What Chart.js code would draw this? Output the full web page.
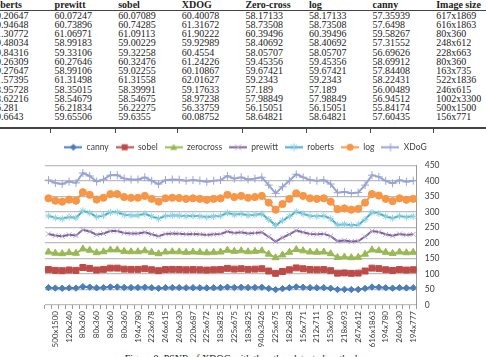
<!DOCTYPE html>
<html>
<head>
<meta charset="utf-8">
<script src="https://cdn.jsdelivr.net/npm/chart.js@4.4.0/dist/chart.umd.min.js"></script>
<style>
    html, body { margin: 0; padding: 0; background: #fff; }
    body { width: 486px; height: 357px; position: relative; overflow: hidden; font-family: "Liberation Serif", serif; color: #222; }
    .cell { position: absolute; font-size: 10px; line-height: 10px; white-space: nowrap; }
    .head { font-weight: bold; }
    .rule { position: absolute; background: #444; }
    #chartWrap { position: absolute; left: 0; top: 130px; width: 486px; height: 227px; }
    #caption { position: absolute; left: 0; width: 486px; top: 353px; text-align: center; font-size: 10px; }
</style>
</head>
<body>
<div id="table"></div>
<div id="caption">Figure 8: PSNR of XDOG with the other detected methods</div>
<div id="chartWrap"><canvas id="psnrChart" width="486" height="227"></canvas></div>
<script>
// ── Table (tail of the previous table on the page) ──────────
const tableHead = ["roberts", "prewitt", "sobel", "XDOG", "Zero-cross", "log", "canny", "Image size"];
const tRoberts = ["60.20647", "60.94648", "61.30772", "59.48034", "59.84316", "60.26309", "59.27647", "61.57395", "58.95728", "58.62216", "56.281", "59.6643"];
const tPrewitt = ["60.07247", "60.73896", "61.06971", "58.99183", "59.33106", "60.27646", "58.99106", "61.31498", "58.35015", "58.54679", "56.21834", "59.65506"];
const tSobel = ["60.07089", "60.74285", "61.09113", "59.00229", "59.32258", "60.32476", "59.02255", "61.31558", "58.39991", "58.54675", "56.22275", "59.6355"];
const tXdog = ["60.40078", "61.31672", "61.90222", "59.92989", "60.4554", "61.24226", "60.10867", "62.01627", "59.17633", "58.97238", "56.33759", "60.08752"];
const tZero = ["58.17133", "58.73508", "60.39496", "58.40692", "58.05707", "59.45356", "59.67421", "59.2343", "57.189", "57.98849", "56.15051", "58.64821"];
const tLog = ["58.17133", "58.73508", "60.39496", "58.40692", "58.05707", "59.45356", "59.67421", "59.2343", "57.189", "57.98849", "56.15051", "58.64821"];
const tCanny = ["57.35939", "57.6498", "59.58267", "57.31552", "56.69626", "58.69912", "57.84408", "58.22431", "56.00489", "56.94512", "55.84174", "57.60435"];
const tSize = ["617x1869", "616x1863", "80x360", "248x612", "228x663", "80x360", "163x735", "522x1836", "246x615", "1002x3300", "500x1500", "156x771"];

// ── Chart data ──────────────────────────────────────────────
// only every second image size is printed under the axis
const shownSizes = ["500x1500", "120x240", "80x360", "80x360", "80x360", "80x360", "194x780", "223x678", "246x615",
    "240x630", "220x687", "225x672", "183x825", "225x675", "183x825", "940x3426", "225x675", "182x828", "156x771",
    "212x711", "153x690", "218x693", "247x612", "616x1863", "194x780", "240x630", "194x777"];

const canny = [55.8, 54.5, 54.0, 55.1, 54.5, 59.1, 57.7, 55.1, 56.1, 58.1, 58.1, 56.5, 56.1, 56.1, 57.1, 55.5, 54.0, 55.8,
    56.1, 56.0, 55.5, 55.8, 55.5, 55.0, 55.5, 55.8, 57.7, 56.5, 57.1, 56.1, 56.5, 57.1, 53.5, 49.7, 52.7, 55.5, 58.5, 57.1,
    55.8, 55.5, 55.8, 54.0, 50.0, 50.4, 49.7, 50.1, 53.5, 58.1, 57.3, 55.5, 54.3, 55.8, 55.0, 55.5];
const sobel = [58.5, 57.2, 56.7, 57.8, 57.2, 61.8, 60.4, 57.8, 58.8, 60.8, 60.8, 59.2, 58.8, 58.8, 59.8, 58.2, 56.7, 58.5,
    58.8, 58.7, 58.2, 58.5, 58.2, 57.7, 58.2, 58.5, 60.4, 59.2, 59.8, 58.8, 59.2, 59.8, 56.2, 52.4, 55.4, 58.2, 61.2, 59.8,
    58.5, 58.2, 58.5, 56.7, 52.7, 53.1, 52.4, 52.8, 56.2, 60.8, 60.0, 58.2, 57.0, 58.5, 57.7, 58.2];
const zerocross = [56.6, 55.3, 54.8, 55.9, 55.3, 59.9, 58.5, 55.9, 56.9, 58.9, 58.9, 57.3, 56.9, 56.9, 57.9, 56.3, 54.8, 56.6,
    56.9, 56.8, 56.3, 56.6, 56.3, 55.8, 56.3, 56.6, 58.5, 57.3, 57.9, 56.9, 57.3, 57.9, 54.3, 50.5, 53.5, 56.3, 59.3, 57.9,
    56.6, 56.3, 56.6, 54.8, 50.8, 51.2, 50.5, 50.9, 54.3, 58.9, 58.1, 56.3, 55.1, 56.6, 55.8, 56.3];
const prewitt = [58.4, 57.2, 56.6, 57.8, 57.3, 61.7, 60.4, 57.9, 58.8, 60.7, 60.8, 59.2, 58.7, 58.8, 59.8, 58.2, 56.6, 58.5,
    58.8, 58.6, 58.2, 58.5, 58.3, 57.7, 58.2, 58.4, 60.4, 59.1, 59.8, 58.8, 59.2, 59.7, 56.2, 52.3, 55.4, 58.2, 61.1, 59.8,
    58.5, 58.2, 58.4, 56.7, 52.6, 53.1, 52.4, 52.8, 56.1, 60.8, 60.0, 58.2, 57.0, 58.4, 57.7, 58.2];
const roberts = [58.1, 56.8, 56.3, 57.4, 56.8, 61.4, 60.0, 57.4, 58.4, 60.4, 60.4, 58.8, 58.4, 58.4, 59.4, 57.8, 56.3, 58.1,
    58.4, 58.3, 57.8, 58.1, 57.8, 57.3, 57.8, 58.1, 60.0, 58.8, 59.4, 58.4, 58.8, 59.4, 55.8, 52.0, 55.0, 57.8, 60.8, 59.4,
    58.1, 57.8, 58.1, 56.3, 52.3, 52.7, 52.0, 52.4, 55.8, 60.4, 59.6, 57.8, 56.6, 58.1, 57.3, 57.8];
const log = [56.6, 55.3, 54.8, 55.9, 55.3, 59.9, 58.5, 55.9, 56.9, 58.9, 58.9, 57.3, 56.9, 56.9, 57.9, 56.3, 54.8, 56.6,
    56.9, 56.8, 56.3, 56.6, 56.3, 55.8, 56.3, 56.6, 58.5, 57.3, 57.9, 56.9, 57.3, 57.9, 54.3, 50.5, 53.5, 56.3, 59.3, 57.9,
    56.6, 56.3, 56.6, 54.8, 50.8, 51.2, 50.5, 50.9, 54.3, 58.9, 58.1, 56.3, 55.1, 56.6, 55.8, 56.3];
const xdog = [58.8, 57.5, 57.0, 58.1, 57.5, 62.1, 60.7, 58.1, 59.1, 61.1, 61.1, 59.5, 59.1, 59.1, 60.1, 58.5, 57.0, 58.8,
    59.1, 59.0, 58.5, 58.8, 58.5, 58.0, 58.5, 58.8, 60.7, 59.5, 60.1, 59.1, 59.5, 60.1, 56.5, 52.7, 55.7, 58.5, 61.5, 60.1,
    58.8, 58.5, 58.8, 57.0, 53.0, 53.4, 52.7, 53.1, 56.5, 61.1, 60.3, 58.5, 57.3, 58.8, 58.0, 58.5];

const yTicks = [0, 50, 100, 150, 200, 250, 300, 350, 400, 450];

document.addEventListener("DOMContentLoaded", () => {
    buildTable();
    buildChart();
});

function buildTable() {
    const root = document.getElementById("table");
    const cols = [tRoberts, tPrewitt, tSobel, tXdog, tZero, tLog, tCanny, tSize];
    const colX = (c) => -9 + c * 63.6;

    tableHead.forEach((text, c) => {
        const el = document.createElement("div");
        el.className = "cell head";
        el.textContent = text;
        el.style.left = colX(c) + "px";
        el.style.top = "0px";
        root.appendChild(el);
    });

    cols.forEach((values, c) => {
        values.forEach((text, r) => {
            const el = document.createElement("div");
            el.className = "cell";
            el.textContent = text;
            el.style.left = colX(c) + "px";
            el.style.top = (10.5 + r * 9.25) + "px";
            root.appendChild(el);
        });
    });

    // header rule and the heavy bottom border with its cell stubs
    addRule(0, 9.5, 486, 1);
    addRule(0, 127, 486, 2);
    [50, 115, 177, 242, 306, 370, 433].forEach((x) => addRule(x, 127, 1, 6));
}

function addRule(x, y, w, h) {
    const el = document.createElement("div");
    el.className = "rule";
    el.style.left = x + "px";
    el.style.top = y + "px";
    el.style.width = w + "px";
    el.style.height = h + "px";
    document.getElementById("table").appendChild(el);
}

// small line + marker sample used as legend symbol
function legendIcon(lineColor, markColor, style) {
    const c = document.createElement("canvas");
    c.width = 18;
    c.height = 9;
    const g = c.getContext("2d");
    g.strokeStyle = lineColor;
    g.lineWidth = 2;
    g.beginPath();
    g.moveTo(0, 4.5);
    g.lineTo(18, 4.5);
    g.stroke();

    const x = 9, y = 4.5;
    g.fillStyle = markColor;
    g.strokeStyle = markColor;
    g.lineWidth = 1;
    g.beginPath();
    if (style === "rectRot") {
        g.moveTo(x, y - 3.5); g.lineTo(x + 3.5, y); g.lineTo(x, y + 3.5); g.lineTo(x - 3.5, y); g.closePath(); g.fill();
    } else if (style === "rect") {
        g.fillRect(x - 3, y - 3, 6, 6);
    } else if (style === "triangle") {
        g.moveTo(x, y - 3.5); g.lineTo(x + 3.5, y + 2.8); g.lineTo(x - 3.5, y + 2.8); g.closePath(); g.fill();
    } else if (style === "crossRot") {
        g.moveTo(x - 3, y - 3); g.lineTo(x + 3, y + 3); g.moveTo(x + 3, y - 3); g.lineTo(x - 3, y + 3); g.stroke();
    } else if (style === "star") {
        g.moveTo(x - 3, y - 3); g.lineTo(x + 3, y + 3); g.moveTo(x + 3, y - 3); g.lineTo(x - 3, y + 3);
        g.moveTo(x, y - 4); g.lineTo(x, y + 4); g.stroke();
    } else if (style === "circle") {
        g.arc(x, y, 3.5, 0, Math.PI * 2); g.fill();
    } else if (style === "cross") {
        g.moveTo(x - 4, y); g.lineTo(x + 4, y); g.moveTo(x, y - 4); g.lineTo(x, y + 4); g.stroke();
    }
    return c;
}

// leaves a little extra room between the legend and the plot
const legendGap = {
    id: "legendGap",
    beforeInit(chart) {
        const fit = chart.legend.fit;
        chart.legend.fit = function () {
            fit.call(this);
            this.height += 4;
        };
    }
};

function buildChart() {
    const categories = [];
    shownSizes.forEach((size) => {
        categories.push("");
        categories.push(size);
    });

    const series = [
        { label: "canny", data: canny, line: "#4a7ebb", mark: "#4a7ebb", style: "rectRot", r: 3.2 },
        { label: "sobel", data: sobel, line: "#be4b48", mark: "#be4b48", style: "rect", r: 4.2 },
        { label: "zerocross", data: zerocross, line: "#98b954", mark: "#98b954", style: "triangle", r: 4 },
        { label: "prewitt", data: prewitt, line: "#7d60a0", mark: "#b8a7d0", style: "crossRot", r: 3.5 },
        { label: "roberts", data: roberts, line: "#46aac5", mark: "#8fd3e3", style: "star", r: 3.5 },
        { label: "log", data: log, line: "#f79646", mark: "#f79646", style: "circle", r: 3.6 },
        { label: "XDoG", data: xdog, line: "#9aa4d4", mark: "#9aa4d4", style: "cross", r: 4 }
    ];

    const icons = series.map((s) => legendIcon(s.line, s.mark, s.style));
    const axisFont = { family: "Lato", size: 8 };

    new Chart(document.getElementById("psnrChart"), {
        type: "line",
        plugins: [legendGap],
        data: {
            labels: categories,
            datasets: series.map((s) => ({
                label: s.label,
                data: s.data,
                borderColor: s.line,
                backgroundColor: s.mark,
                pointBorderColor: s.mark,
                pointBackgroundColor: s.mark,
                pointStyle: s.style,
                pointRadius: s.r,
                pointBorderWidth: 1,
                borderWidth: 2,
                tension: 0,
                fill: false
            }))
        },
        options: {
            responsive: false,
            animation: false,
            layout: {
                padding: { top: 6, left: 45, right: 40, bottom: 0 }
            },
            plugins: {
                legend: {
                    position: "top",
                    labels: {
                        usePointStyle: true,
                        pointStyleWidth: 18,
                        boxHeight: 9,
                        padding: 7,
                        color: "#404040",
                        font: { family: "Lato", size: 8.5 },
                        generateLabels: (chart) => chart.data.datasets.map((ds, i) => ({
                            text: ds.label,
                            pointStyle: icons[i],
                            fillStyle: ds.borderColor,
                            strokeStyle: ds.borderColor,
                            lineWidth: 0,
                            hidden: false,
                            datasetIndex: i,
                            fontColor: "#404040"
                        }))
                    }
                },
                tooltip: { enabled: false }
            },
            scales: {
                x: {
                    offset: true,
                    grid: {
                        display: true,
                        drawOnChartArea: false,
                        offset: true,
                        tickLength: 4,
                        color: "#9a9a9a"
                    },
                    border: { display: false },
                    ticks: {
                        autoSkip: false,
                        minRotation: 90,
                        maxRotation: 90,
                        padding: 2,
                        color: "#404040",
                        font: axisFont
                    },
                    afterFit: (scale) => { scale.height = 52; }
                },
                y: {
                    position: "right",
                    stacked: true,
                    min: 0,
                    max: 450,
                    afterBuildTicks: (scale) => { scale.ticks = yTicks.map((v) => ({ value: v })); },
                    grid: { color: "#bdbdbd", lineWidth: 1.3, drawTicks: false },
                    border: { display: true, color: "#9a9a9a" },
                    ticks: {
                        padding: 8,
                        color: "#404040",
                        font: { family: "Lato", size: 8.5 }
                    },
                    afterFit: (scale) => { scale.width = 29.3; }
                }
            }
        }
    });
}
</script>
</body>
</html>
